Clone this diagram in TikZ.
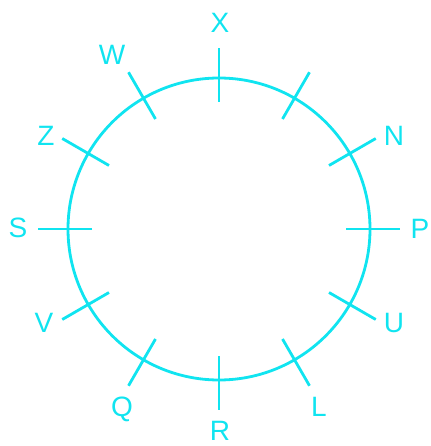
\documentclass[tikz,border=0pt]{standalone}
\usepackage{fontspec}
\setmainfont{Liberation Sans}
\definecolor{cy}{RGB}{16,228,240}
\begin{document}
\begin{tikzpicture}[x=1pt,y=-1pt,
  line width=2.8pt,
  ring/.style={circle, draw=cy, minimum size=302pt, inner sep=0pt, line width=2.8pt},
  tick/.style={draw=cy, line width=2.8pt},
  lbl/.style={text=cy, font=\fontsize{28}{28}\selectfont, inner sep=0pt}]
\useasboundingbox (0,0) rectangle (430,446);
\coordinate (O) at (219,229);
\node[ring] (c) at (O) {};
\foreach \a in {0,30,...,330}{
  \coordinate (i\a) at ([shift={(O)}]\a:127);
  \coordinate (o\a) at ([shift={(O)}]\a:181);
  \draw[tick] (i\a) -- (o\a);
}
\node[lbl] (X) at (220,23) {X};
\node[lbl] (N) at (394,136) {N};
\node[lbl] (P) at (420,229) {P};
\node[lbl] (U) at (394,323) {U};
\node[lbl] (L) at (319,407) {L};
\node[lbl] (R) at (220,431) {R};
\node[lbl] (Q) at (122,409) {Q};
\node[lbl] (V) at (44,323) {V};
\node[lbl] (S) at (18,228) {S};
\node[lbl] (Z) at (46,136) {Z};
\node[lbl] (W) at (112,55) {W};
\end{tikzpicture}
\end{document}
